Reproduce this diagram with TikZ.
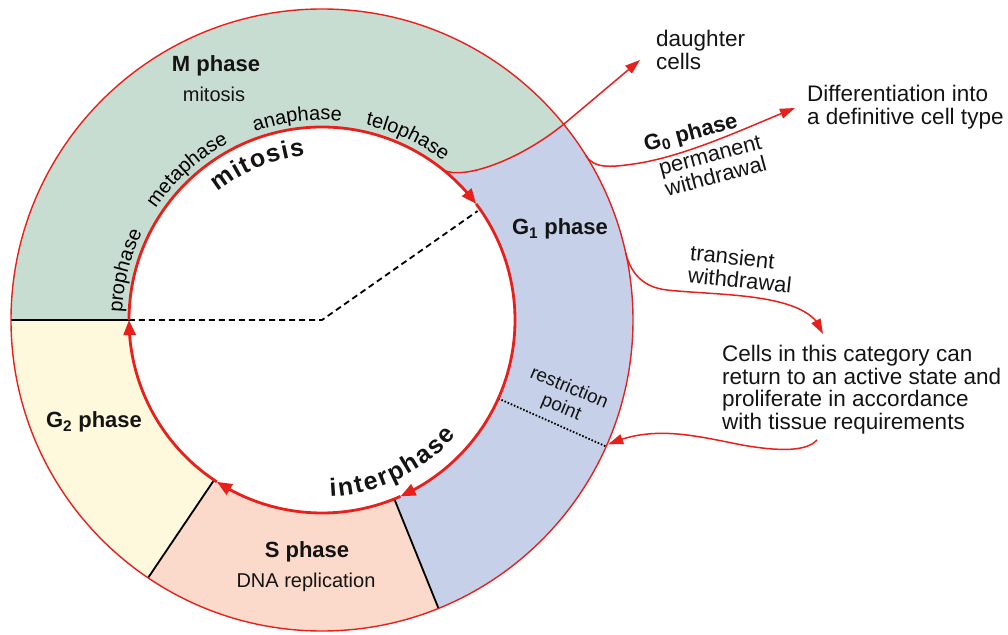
\documentclass[tikz,border=0pt]{standalone}
\usepackage{fontspec}
\setmainfont{Liberation Sans}
\usetikzlibrary{arrows.meta,bending,decorations.text}
\definecolor{mgreen}{RGB}{200,221,209}
\definecolor{gblue}{RGB}{198,209,233}
\definecolor{spink}{RGB}{251,217,203}
\definecolor{gyellow}{RGB}{254,249,221}
\definecolor{cred}{RGB}{232,32,28}
\definecolor{ink}{RGB}{20,20,20}
\newcommand\ringfont{\fontsize{20}{20}\selectfont}
\begin{document}
\begin{tikzpicture}[x=1pt,y=1pt,
  outerline/.style={draw=cred, line width=1.4pt},
  cyclearc/.style={draw=cred, line width=2.8pt, -{Triangle[length=15pt,width=12pt,flex]}},
  redarrow/.style={draw=cred, line width=1.5pt, -{Triangle[length=15pt,width=10pt]}},
  divider/.style={draw=black, line width=1.8pt},
  phaselbl/.style={font=\bfseries\fontsize{22}{24}\selectfont, text=ink, inner sep=0pt},
  sublbl/.style={font=\fontsize{20}{22}\selectfont, text=ink, inner sep=0pt},
  sidetxt/.style={font=\fontsize{22.5}{22.7}\selectfont, text=ink, inner sep=0pt, align=left, anchor=north west},
  cyclelet/.style={font=\bfseries\fontsize{25}{25}\selectfont, text=ink, inner sep=0pt, anchor=base},
  arclbl/.style={decorate, decoration={text along path, text align=center, text={#1}}}
]
\useasboundingbox (-322,-314) rectangle (686,320);

% phase sectors
\fill[mgreen] (180:311) arc[start angle=180,end angle=39,radius=311]
  .. controls (195,158) and (140,140) .. (51:193)
  arc[start angle=51,end angle=180,radius=193] -- cycle;
\fill[gblue] (39:311) arc[start angle=39,end angle=-68,radius=311]
  -- (-68:193) arc[start angle=-68,end angle=51,radius=193]
  .. controls (140,140) and (195,158) .. (39:311) -- cycle;
\fill[spink] (-68:311) arc[start angle=-68,end angle=-124,radius=311]
  -- (-124:193) arc[start angle=-124,end angle=-68,radius=193] -- cycle;
\fill[gyellow] (-124:311) arc[start angle=-124,end angle=-180,radius=311]
  -- (-180:193) arc[start angle=-180,end angle=-124,radius=193] -- cycle;

% dividers
\draw[divider] (180:193) -- (180:311);
\draw[divider] (-68:193) -- (-68:311);
\draw[divider] (-124:193) -- (-124:311);
\draw[black, line width=1.8pt, dash pattern=on 1.6pt off 1.8pt] (-24:193) -- (-24:311);
\draw[black, line width=1.8pt, dash pattern=on 6pt off 4pt] (180:193) -- (0,0) -- (35:190);

% outer circle
\draw[outerline] (0,0) circle[radius=311];

% cycle arrows on inner circle
\draw[cyclearc] (180:193) arc[start angle=180,end angle=37,radius=193];
\draw[cyclearc] (37:193) arc[start angle=37,end angle=-66,radius=193];
\draw[cyclearc] (-66:193) arc[start angle=-66,end angle=-123,radius=193];
\draw[cyclearc] (-123:193) arc[start angle=-123,end angle=-180,radius=193];

% labels in ring
\node[phaselbl] (mph) at (-106,254) {M phase};
\node[sublbl] (mmit) at (-108,226) {mitosis};
\node[phaselbl] (g1) at (238,91) {G\textsubscript{1} phase};
\node[phaselbl] (g2) at (-228,-102) {G\textsubscript{2} phase};
\node[phaselbl] (sph) at (-15,-232) {S phase};
\node[sublbl] (dna) at (-16,-262) {DNA replication};
\node[font=\fontsize{19}{21}\selectfont, text=ink, inner sep=0pt, align=center, rotate=-22.5] (rp) at (243,-78) {restriction\\point};

\path[arclbl={|\ringfont|prophase}] (186:200) arc[start angle=186,end angle=146,radius=200];
\path[arclbl={|\ringfont|metaphase}] (157:200) arc[start angle=157,end angle=107,radius=200];
\path[arclbl={|\ringfont|anaphase}] (122:200) arc[start angle=122,end angle=72,radius=200];
\path[arclbl={|\ringfont|telophase}] (90:200) arc[start angle=90,end angle=40,radius=200];

% bold cycle words, letter by letter along the inner circle
\foreach \ch/\a [count=\i] in {m/125.19, i/119.68, t/116.58, o/112.03, s/106.51, i/102.44, s/98.37}
  \node[cyclelet, rotate=\a-90] (mit\i) at (\a:165) {\ch};
\foreach \ch/\a [count=\i] in {i/-86.26, n/-82.01, t/-77.54, e/-73.3, r/-68.82, p/-64.13, h/-58.54, a/-53.17, s/-48.02, e/-42.87}
  \node[cyclelet, rotate=\a+90] (int\i) at (\a:177) {\ch};

% side texts
\node[sidetxt] (daughter) at (334,290) {daughter\\cells};
\node[sidetxt] (diff) at (485,235) {Differentiation into\\a definitive cell type};
\node[sidetxt] (cells) at (400,-25) {Cells in this category can\\return to an active state and\\proliferate in accordance\\with tissue requirements};
\node[phaselbl, rotate=15] (g0) at (369,186) {G\textsubscript{0} phase};
\node[font=\fontsize{22}{22}\selectfont, text=ink, inner sep=0pt, align=center, rotate=15] (perm) at (391,154) {permanent\\withdrawal};
\node[font=\fontsize{22}{22.5}\selectfont, text=ink, inner sep=0pt, align=left, rotate=-6] (trans) at (419,51) {transient\\withdrawal};

% outgoing arrows
\coordinate (dtip) at (318,260);
\coordinate (g0start) at (32:311);
\coordinate (g0tip) at (473,212);
\coordinate (trstart) at (12.5:311);
\coordinate (trtip) at (501,-14);
\coordinate (retstart) at (495,-120);
\coordinate (rettip) at (-23.5:312);
\draw[redarrow] (51:193) .. controls (140,140) and (195,158) .. (39:311) -- (dtip);
\draw[redarrow] (g0start) .. controls (272,150) and (292,153) .. (318,157)
  .. controls (370,166) and (430,195) .. (g0tip);
\draw[redarrow] (trstart) .. controls (308,50) and (318,33) .. (345,30)
  .. controls (400,24) and (490,28) .. (trtip);
\draw[redarrow] (retstart) .. controls (485,-131) and (460,-132) .. (420,-125)
  .. controls (370,-115) and (330,-105) .. (rettip);
\end{tikzpicture}
\end{document}
